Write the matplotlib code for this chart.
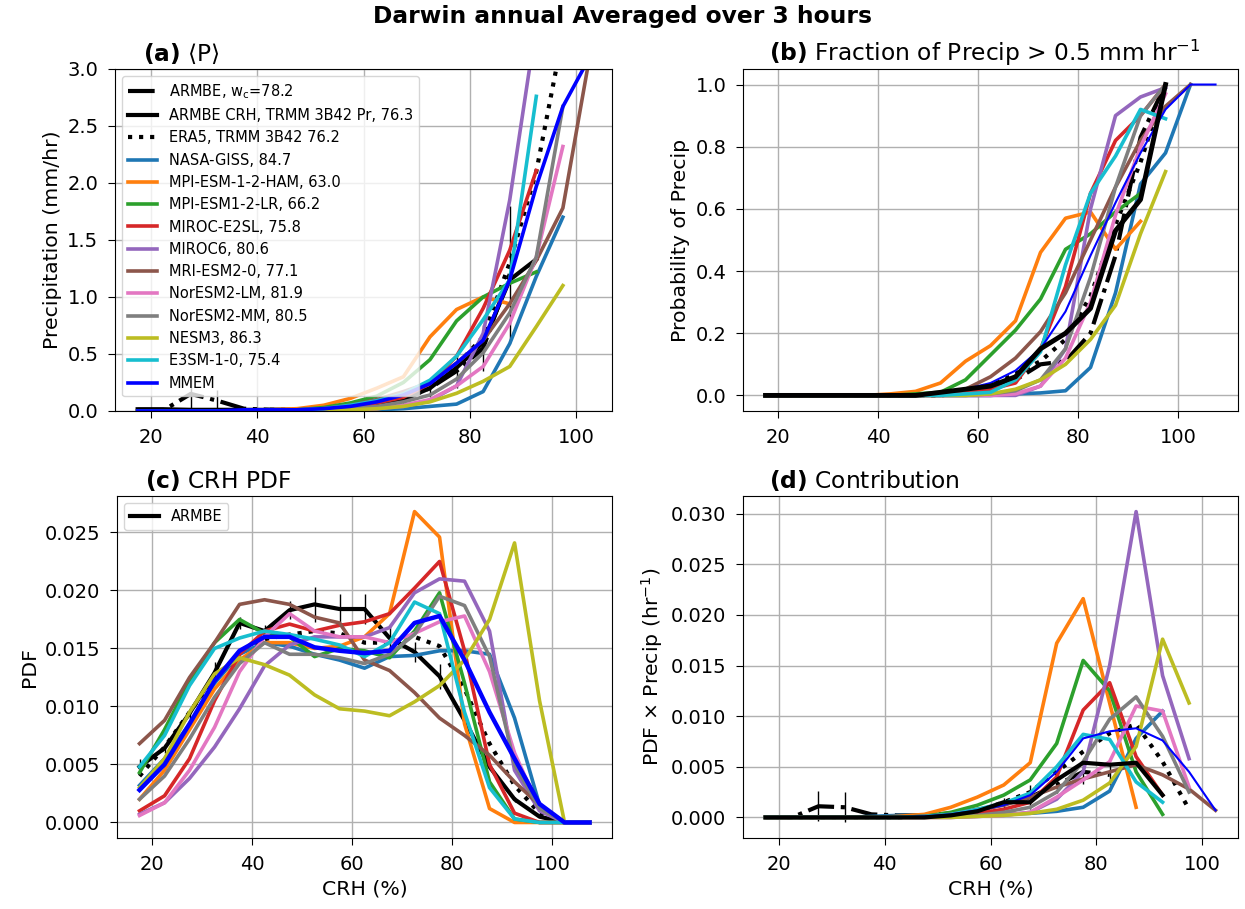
import matplotlib
matplotlib.use('Agg')
import matplotlib.pyplot as plt
import numpy as np

nan = np.nan

# CRH bin centres (%)
crh = [17.5, 22.5, 27.5, 32.5, 37.5, 42.5, 47.5, 52.5, 57.5, 62.5,
       67.5, 72.5, 77.5, 82.5, 87.5, 92.5, 97.5, 102.5, 107.5]

models = ['NASA-GISS', 'MPI-ESM-1-2-HAM', 'MPI-ESM1-2-LR', 'MIROC-E2SL', 'MIROC6',
          'MRI-ESM2-0', 'NorESM2-LM', 'NorESM2-MM', 'NESM3', 'E3SM-1-0']
wc_models = [84.7, 63.0, 66.2, 75.8, 80.6, 77.1, 81.9, 80.5, 86.3, 75.4]
wc_armbe, wc_trmm, wc_era5 = 78.2, 76.3, 76.2

# ---- (a) mean precip (mm/hr)
a_armbe = [0.01, 0.01, 0.15, 0.09, 0.02, 0.01, 0.01, 0.01, 0.02, 0.05, 0.1, 0.2, 0.35, 0.55, 1.2, nan, nan, nan, nan]
a_armbe_err = [0.0, 0.0, 0.14, 0.09, 0.0, 0.0, 0.0, 0.0, 0.0, 0.0, 0.03, 0.08, 0.15, 0.2, 0.6, nan, nan, nan, nan]
a_trmm = [0.015, 0.015, 0.01, 0.01, 0.01, 0.01, 0.01, 0.02, 0.03, 0.06, 0.1, 0.2, 0.38, 0.6, 1.15, 1.33, nan, nan, nan]
a_era5 = [0.0, 0.0, 0.0, 0.0, 0.0, 0.01, 0.01, 0.01, 0.02, 0.05, 0.1, 0.22, 0.4, 0.65, 1.3, 2.1, 3.3, nan, nan]
a_mmem = [0.0, 0.0, 0.0, 0.0, 0.01, 0.01, 0.01, 0.02, 0.04, 0.08, 0.14, 0.24, 0.42, 0.62, 1.15, 1.97, 2.67, 3.1, nan]
a_mod = {
    'NASA-GISS':       [0.0, 0.0, 0.0, 0.0, 0.0, 0.0, 0.0, 0.0, 0.01, 0.01, 0.02, 0.04, 0.06, 0.17, 0.59, 1.18, 1.7, nan, nan],
    'MPI-ESM-1-2-HAM': [0.0, 0.0, 0.0, 0.0, 0.0, 0.01, 0.02, 0.05, 0.11, 0.2, 0.3, 0.65, 0.89, 1.0, 0.94, nan, nan, nan, nan],
    'MPI-ESM1-2-LR':   [0.0, 0.0, 0.0, 0.0, 0.0, 0.0, 0.01, 0.03, 0.07, 0.13, 0.25, 0.45, 0.79, 1.0, 1.12, 1.22, nan, nan, nan],
    'MIROC-E2SL':      [0.0, 0.0, 0.0, 0.0, 0.0, 0.0, 0.01, 0.02, 0.04, 0.07, 0.12, 0.24, 0.48, 0.9, 1.41, 2.11, nan, nan, nan],
    'MIROC6':          [0.0, 0.0, 0.0, 0.0, 0.0, 0.0, 0.0, 0.0, 0.01, 0.02, 0.04, 0.09, 0.22, 0.68, 1.85, 3.4, nan, nan, nan],
    'MRI-ESM2-0':      [0.0, 0.0, 0.0, 0.0, 0.0, 0.0, 0.01, 0.02, 0.05, 0.1, 0.17, 0.25, 0.42, 0.62, 0.94, 1.32, 1.78, 3.1, nan],
    'NorESM2-LM':      [0.0, 0.0, 0.0, 0.0, 0.0, 0.0, 0.0, 0.0, 0.01, 0.02, 0.05, 0.1, 0.22, 0.39, 0.77, 1.35, 2.32, nan, nan],
    'NorESM2-MM':      [0.0, 0.0, 0.0, 0.0, 0.0, 0.0, 0.0, 0.01, 0.02, 0.04, 0.08, 0.14, 0.28, 0.51, 0.86, 1.35, 2.67, nan, nan],
    'NESM3':           [0.0, 0.0, 0.0, 0.0, 0.0, 0.0, 0.0, 0.0, 0.01, 0.02, 0.04, 0.08, 0.155, 0.26, 0.39, 0.74, 1.1, nan, nan],
    'E3SM-1-0':        [0.0, 0.0, 0.0, 0.0, 0.0, 0.0, 0.01, 0.02, 0.05, 0.09, 0.15, 0.27, 0.48, 0.8, 1.15, 2.76, nan, nan, nan],
}

# ---- (b) probability of precip > 0.5 mm/hr
b_armbe = [0.0, 0.0, 0.0, 0.0, 0.0, 0.0, 0.0, 0.0, 0.01, 0.03, 0.05, 0.1, 0.11, 0.2, 0.45, 0.83, 1.0, nan, nan]
b_trmm = [0.0, 0.0, 0.0, 0.0, 0.0, 0.0, 0.0, 0.01, 0.02, 0.03, 0.06, 0.15, 0.2, 0.28, 0.53, 0.63, 1.0, nan, nan]
b_era5 = [0.0, 0.0, 0.0, 0.0, 0.0, 0.0, 0.0, 0.0, 0.01, 0.03, 0.07, 0.11, 0.18, 0.32, 0.55, 0.75, 1.0, nan, nan]
b_mmem = [0.0, 0.0, 0.0, 0.0, 0.0, 0.0, 0.0, 0.01, 0.02, 0.04, 0.08, 0.15, 0.27, 0.45, 0.62, 0.78, 0.92, 1.0, 1.0]
b_mod = {
    'NASA-GISS':       [0.0, 0.0, 0.0, 0.0, 0.0, 0.0, 0.0, 0.0, 0.0, 0.0, 0.005, 0.008, 0.015, 0.09, 0.33, 0.68, 0.78, 1.0, nan],
    'MPI-ESM-1-2-HAM': [0.0, 0.0, 0.0, 0.0, 0.0, 0.005, 0.013, 0.04, 0.11, 0.16, 0.24, 0.46, 0.57, 0.59, 0.47, 0.56, nan, nan, nan],
    'MPI-ESM1-2-LR':   [0.0, 0.0, 0.0, 0.0, 0.0, 0.0, 0.005, 0.01, 0.05, 0.13, 0.21, 0.31, 0.47, 0.52, 0.59, 0.65, nan, nan, nan],
    'MIROC-E2SL':      [0.0, 0.0, 0.0, 0.0, 0.0, 0.0, 0.0, 0.0, 0.01, 0.02, 0.04, 0.15, 0.35, 0.65, 0.82, 0.9, 1.0, nan, nan],
    'MIROC6':          [0.0, 0.0, 0.0, 0.0, 0.0, 0.0, 0.0, 0.0, 0.0, 0.0, 0.0, 0.03, 0.15, 0.6, 0.9, 0.96, 0.99, nan, nan],
    'MRI-ESM2-0':      [0.0, 0.0, 0.0, 0.0, 0.0, 0.0, 0.0, 0.005, 0.02, 0.06, 0.12, 0.205, 0.33, 0.5, 0.67, 0.82, 0.93, 1.0, nan],
    'NorESM2-LM':      [0.0, 0.0, 0.0, 0.0, 0.0, 0.0, 0.0, 0.0, 0.0, 0.0, 0.005, 0.03, 0.12, 0.3, 0.58, 0.8, 0.97, nan, nan],
    'NorESM2-MM':      [0.0, 0.0, 0.0, 0.0, 0.0, 0.0, 0.0, 0.0, 0.0, 0.005, 0.015, 0.05, 0.15, 0.38, 0.67, 0.9, 1.0, nan, nan],
    'NESM3':           [0.0, 0.0, 0.0, 0.0, 0.0, 0.0, 0.0, 0.0, 0.0, 0.005, 0.02, 0.05, 0.1, 0.18, 0.29, 0.52, 0.72, nan, nan],
    'E3SM-1-0':        [0.0, 0.0, 0.0, 0.0, 0.0, 0.0, 0.0, 0.0, 0.005, 0.01, 0.05, 0.14, 0.42, 0.65, 0.77, 0.92, 0.89, nan, nan],
}

# ---- (c) CRH PDF
c_armbe = [0.0048, 0.0064, 0.0094, 0.0129, 0.0172, 0.0165, 0.0183, 0.0188, 0.0184, 0.0184, 0.0159,
           0.0147, 0.0126, 0.0088, 0.0048, 0.002, 0.0005, 0.0, 0.0]
c_armbe_err = [0.0007, 0.0004, 0.0005, 0.0009, 0.0005, 0.0005, 0.0008, 0.0015, 0.0013, 0.0013, 0.001,
               0.0009, 0.0011, 0.0005, 0.0003, 0.0002, 0.0001, 0.0, 0.0]
c_era5 = [0.004, 0.0065, 0.0095, 0.0125, 0.0145, 0.0158, 0.0162, 0.0165, 0.0163, 0.0155, 0.0155,
          0.016, 0.0152, 0.0115, 0.0068, 0.0032, 0.0008, 0.0, nan]
c_mmem = [0.0028, 0.005, 0.0085, 0.0122, 0.0148, 0.016, 0.016, 0.0151, 0.0148, 0.0146, 0.0148,
          0.0172, 0.0178, 0.014, 0.0095, 0.0055, 0.0016, 0.0, 0.0]
c_mod = {
    'NASA-GISS':       [0.0032, 0.0055, 0.0085, 0.012, 0.0145, 0.0155, 0.0152, 0.0145, 0.014, 0.0133, 0.0143, 0.0144, 0.0148, 0.0148, 0.0145, 0.009, 0.0015, 0.0, 0.0],
    'MPI-ESM-1-2-HAM': [0.002, 0.0045, 0.008, 0.0115, 0.014, 0.0155, 0.0155, 0.015, 0.0152, 0.016, 0.018, 0.0268, 0.0246, 0.0085, 0.0012, 0.0, 0.0, 0.0, 0.0],
    'MPI-ESM1-2-LR':   [0.0043, 0.008, 0.0122, 0.0155, 0.0175, 0.0163, 0.016, 0.0143, 0.015, 0.0148, 0.0142, 0.0165, 0.0198, 0.012, 0.0035, 0.0003, 0.0, 0.0, 0.0],
    'MIROC-E2SL':      [0.001, 0.0023, 0.0055, 0.0105, 0.0145, 0.0165, 0.0171, 0.0165, 0.017, 0.0173, 0.018, 0.0202, 0.0225, 0.0148, 0.005, 0.0008, 0.0, 0.0, 0.0],
    'MIROC6':          [0.0007, 0.0017, 0.0038, 0.0065, 0.0098, 0.0135, 0.0153, 0.016, 0.016, 0.016, 0.0168, 0.0198, 0.021, 0.0208, 0.0165, 0.0045, 0.001, 0.0, 0.0],
    'MRI-ESM2-0':      [0.0068, 0.0088, 0.0125, 0.0155, 0.0188, 0.0192, 0.0188, 0.0177, 0.0172, 0.014, 0.0131, 0.0112, 0.009, 0.0075, 0.0058, 0.0035, 0.0015, 0.0, 0.0],
    'NorESM2-LM':      [0.0006, 0.0017, 0.0045, 0.0082, 0.013, 0.016, 0.018, 0.0165, 0.016, 0.016, 0.0155, 0.0163, 0.0173, 0.0178, 0.013, 0.006, 0.0012, 0.0, 0.0],
    'NorESM2-MM':      [0.002, 0.004, 0.0072, 0.0108, 0.0137, 0.0155, 0.0145, 0.0145, 0.0142, 0.0137, 0.0145, 0.0162, 0.0195, 0.0187, 0.0143, 0.005, 0.0012, 0.0, 0.0],
    'NESM3':           [0.003, 0.0055, 0.0095, 0.0128, 0.0142, 0.0136, 0.0127, 0.011, 0.0098, 0.0096, 0.0092, 0.0104, 0.0118, 0.014, 0.0175, 0.0241, 0.0105, 0.0, 0.0],
    'E3SM-1-0':        [0.0048, 0.0075, 0.0118, 0.015, 0.0159, 0.0165, 0.0162, 0.0158, 0.0153, 0.0143, 0.0155, 0.019, 0.018, 0.0095, 0.003, 0.0003, 0.0, 0.0, 0.0],
}

# ---- (d) PDF x precip (1/hr)
d_armbe = [0.0, 0.0, 0.0011, 0.001, 0.0003, 0.0002, 0.0002, 0.0004, 0.0007, 0.0013, 0.002, 0.0032, 0.0045, 0.0042, nan, nan, nan, nan, nan]
d_armbe_err = [0.0, 0.0, 0.0015, 0.0015, 0.0, 0.0, 0.0, 0.0, 0.0, 0.0006, 0.0012, 0.0008, 0.0012, 0.001, nan, nan, nan, nan, nan]
d_trmm = [0.0, 0.0, 0.0, 0.0, 0.0, 0.0, 0.0, 0.0002, 0.0006, 0.0015, 0.0015, 0.0037, 0.0054, 0.0052, 0.0054, 0.0022, nan, nan, nan]
d_era5 = [0.0, 0.0, 0.0, 0.0, 0.0, 0.0, 0.0001, 0.0002, 0.0006, 0.0015, 0.0025, 0.0045, 0.0065, 0.0083, 0.0092, 0.0055, 0.0008, nan, nan]
d_mmem = [0.0, 0.0, 0.0, 0.0, 0.0, 0.0, 0.0001, 0.0003, 0.0007, 0.0012, 0.0022, 0.0045, 0.0078, 0.0085, 0.0088, 0.0076, 0.0045, 0.0007, nan]
d_mod = {
    'NASA-GISS':       [0.0, 0.0, 0.0, 0.0, 0.0001, 0.0002, 0.0002, 0.0002, 0.0002, 0.0003, 0.0004, 0.0006, 0.001, 0.0026, 0.0078, 0.0105, nan, nan, nan],
    'MPI-ESM-1-2-HAM': [0.0, 0.0, 0.0, 0.0, 0.0, 0.0001, 0.0003, 0.001, 0.002, 0.0032, 0.0054, 0.0172, 0.0216, 0.0113, 0.001, nan, nan, nan, nan],
    'MPI-ESM1-2-LR':   [0.0, 0.0, 0.0, 0.0, 0.0, 0.0, 0.0001, 0.0005, 0.0012, 0.0022, 0.0037, 0.0073, 0.0155, 0.0125, 0.0045, 0.0003, nan, nan, nan],
    'MIROC-E2SL':      [0.0, 0.0, 0.0, 0.0, 0.0, 0.0, 0.0001, 0.0002, 0.0004, 0.0008, 0.0015, 0.004, 0.0106, 0.0133, 0.006, 0.0022, nan, nan, nan],
    'MIROC6':          [0.0, 0.0, 0.0, 0.0, 0.0, 0.0, 0.0, 0.0, 0.0001, 0.0002, 0.0005, 0.0018, 0.0045, 0.015, 0.0302, 0.014, 0.0058, nan, nan],
    'MRI-ESM2-0':      [0.0, 0.0, 0.0, 0.0, 0.0, 0.0, 0.0001, 0.0003, 0.0008, 0.0012, 0.002, 0.003, 0.0038, 0.0045, 0.0052, 0.0042, 0.0028, 0.0007, nan],
    'NorESM2-LM':      [0.0, 0.0, 0.0, 0.0, 0.0, 0.0, 0.0, 0.0, 0.0001, 0.0002, 0.0005, 0.002, 0.0037, 0.0055, 0.011, 0.0105, 0.003, nan, nan],
    'NorESM2-MM':      [0.0, 0.0, 0.0, 0.0, 0.0, 0.0, 0.0, 0.0001, 0.0002, 0.0005, 0.001, 0.0025, 0.0055, 0.0097, 0.0119, 0.008, 0.0025, nan, nan],
    'NESM3':           [0.0, 0.0, 0.0, 0.0, 0.0, 0.0, 0.0, 0.0, 0.0001, 0.0002, 0.0004, 0.0008, 0.0017, 0.0034, 0.007, 0.0176, 0.0113, nan, nan],
    'E3SM-1-0':        [0.0, 0.0, 0.0, 0.0, 0.0, 0.0, 0.0001, 0.0003, 0.0008, 0.0014, 0.0024, 0.005, 0.0082, 0.0077, 0.0035, 0.0015, nan, nan, nan],
}

colors = ['C0', 'C1', 'C2', 'C3', 'C4', 'C5', 'C6', 'C7', 'C8', 'C9']

fig = plt.figure(figsize=(12.45, 9.09), dpi=100)
axa = fig.add_axes([0.0924, 0.5479, 0.3992, 0.3762])
axb = fig.add_axes([0.5968, 0.5479, 0.3976, 0.3762])
axc = fig.add_axes([0.0940, 0.0781, 0.3976, 0.3762])
axd = fig.add_axes([0.5968, 0.0781, 0.3976, 0.3762])

LW = 2.6
TFS = 16.8   # title size
LFS = 14.7   # axis label size


def draw_models(ax, mod):
    for name, c in zip(models, colors):
        ax.plot(crh, mod[name], color=c, lw=LW)


# (a)
axa.plot(crh, a_armbe, color='k', ls='-.', lw=3, label=r'ARMBE, w$_{\rm c}$=%.1f' % wc_armbe)
axa.errorbar(crh, a_armbe, yerr=a_armbe_err, fmt='none', ecolor='k', elinewidth=1)
axa.plot(crh, a_trmm, color='k', lw=3, label='ARMBE CRH, TRMM 3B42 Pr, %.1f' % wc_trmm)
axa.plot(crh, a_era5, color='k', ls=':', lw=3, label='ERA5, TRMM 3B42 %.1f' % wc_era5)
for name, c, w in zip(models, colors, wc_models):
    axa.plot(crh, a_mod[name], color=c, lw=LW, label='%s, %.1f' % (name, w))
axa.plot(crh, a_mmem, color='blue', lw=LW, label='MMEM')
axa.set_ylim(0, 3)
axa.set_ylabel('Precipitation (mm/hr)', fontsize=LFS)
axa.legend(loc='upper left', fontsize=10.5)
t = axa.set_title(r'$\bf{(a)}$ $\langle$P$\rangle$', loc='left', fontsize=TFS)
t.set_x(0.056)

# (b)
axb.plot(crh, b_armbe, color='k', ls='-.', lw=3)
axb.plot(crh, b_era5, color='k', ls=':', lw=3)
draw_models(axb, b_mod)
axb.plot(crh, b_mmem, color='blue', lw=1.5)
axb.plot(crh, b_trmm, color='k', lw=3.5)
axb.set_ylabel('Probability of Precip', fontsize=LFS)
t = axb.set_title(r'$\bf{(b)}$ Fraction of Precip > 0.5 mm hr$^{-1}$', loc='left', fontsize=TFS)
t.set_x(0.052)

# (c)
axc.plot(crh, c_armbe, color='k', lw=3, label='ARMBE')
axc.errorbar(crh, c_armbe, yerr=c_armbe_err, fmt='none', ecolor='k', elinewidth=1)
axc.plot(crh, c_era5, color='k', ls=':', lw=3)
draw_models(axc, c_mod)
axc.plot(crh, c_mmem, color='blue', lw=3.2)
axc.set_ylabel('PDF', fontsize=LFS)
axc.set_xlabel('CRH (%)', fontsize=LFS)
axc.legend(loc='upper left', fontsize=10.5)
t = axc.set_title(r'$\bf{(c)}$ CRH PDF', loc='left', fontsize=TFS)
t.set_x(0.056)

# (d)
axd.plot(crh, d_armbe, color='k', ls='-.', lw=3)
axd.errorbar(crh, d_armbe, yerr=d_armbe_err, fmt='none', ecolor='k', elinewidth=1)
axd.plot(crh, d_era5, color='k', ls=':', lw=3)
draw_models(axd, d_mod)
axd.plot(crh, d_mmem, color='blue', lw=1.5)
axd.plot(crh, d_trmm, color='k', lw=3)
axd.set_ylabel(r'PDF $\times$ Precip (hr$^{-1}$)', fontsize=LFS)
axd.set_xlabel('CRH (%)', fontsize=LFS)
t = axd.set_title(r'$\bf{(d)}$ Contribution', loc='left', fontsize=TFS)
t.set_x(0.052)

for ax in (axa, axb, axc, axd):
    ax.grid(True, lw=1)
    ax.set_axisbelow(True)
    ax.set_xticks([20, 40, 60, 80, 100])
    ax.tick_params(labelsize=14, length=5, pad=7)

axd.set_yticks([0.0, 0.005, 0.010, 0.015, 0.020, 0.025, 0.030])

fig.suptitle('Darwin annual Averaged over 3 hours', fontsize=TFS, fontweight='bold',
             y=0.995, va='top')

plt.savefig('out.png', dpi=100)
